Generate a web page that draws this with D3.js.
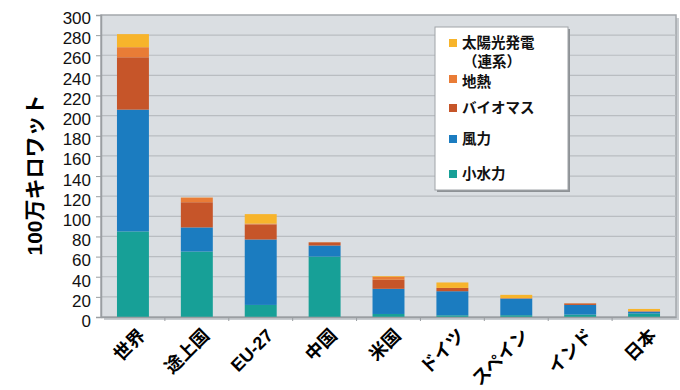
<!DOCTYPE html>
<html><head><meta charset="utf-8">
<script src="https://cdn.jsdelivr.net/npm/d3@7"></script>
<style>
body{margin:0;background:#fff;}
text{font-family:"Liberation Sans","Noto Sans CJK JP",sans-serif;}
</style></head>
<body><svg id="c" width="680" height="390"></svg>
<script>
const categories = ["世界","途上国","EU-27","中国","米国","ドイツ","スペイン","インド","日本"];
const seriesNames = ["小水力","風力","バイオマス","地熱","太陽光発電"];
const smallHydro = [85, 65, 12, 60, 3, 1.7, 1.8, 2.4, 3.5];
const wind       = [121, 24, 65, 11, 25, 23.9, 16.5, 9.6, 1.9];
const biomass    = [52, 25, 15, 3.2, 9, 3.3, 0.4, 1.5, 0.1];
const geothermal = [10, 4.6, 0.8, 0, 3, 0, 0, 0, 0.5];
const solarPV    = [13, 0.1, 9.4, 0.1, 0.7, 5.4, 3.3, 0.1, 2.0];
const yTicks = d3.range(0, 301, 20);
const colors = ["#17a097","#1b7cc0","#c65529","#e97c36","#f7b42b"];
const legendLabels = [["太陽光発電","（連系）"],["地熱"],["バイオマス"],["風力"],["小水力"]];

const svg = d3.select("#c");
const L=101, R=676, T=15, B=317;
const x = d3.scaleBand().domain(categories).range([L,R]).paddingInner(0.5).paddingOuter(0.25);
const xb = d3.scaleBand().domain(categories).range([L,R]);
const y = d3.scaleLinear().domain([0,300]).range([B,T]);

// plot background
svg.append("rect").attr("x",L+3).attr("y",T+3).attr("width",R-L).attr("height",B-T).attr("fill","#c9cdd1");
svg.append("rect").attr("x",L).attr("y",T).attr("width",R-L).attr("height",B-T).attr("fill","#dadee2").attr("stroke","#a4a8ac").attr("stroke-width",1.5);

// gridlines
svg.append("g").selectAll("line").data(yTicks.filter(d=>d>0&&d<300)).join("line")
  .attr("x1",L).attr("x2",R).attr("y1",d=>y(d)).attr("y2",d=>y(d))
  .attr("stroke","#b9bdc1").attr("stroke-width",1.2);

// stacked bars
const table = categories.map((c,i)=>({cat:c,"小水力":smallHydro[i],"風力":wind[i],"バイオマス":biomass[i],"地熱":geothermal[i],"太陽光発電":solarPV[i]}));
const stack = d3.stack().keys(seriesNames)(table);
svg.append("g").selectAll("g").data(stack).join("g").attr("fill",(d,i)=>colors[i])
  .selectAll("rect").data(d=>d).join("rect")
  .attr("x",d=>x(d.data.cat)).attr("width",x.bandwidth())
  .attr("y",d=>y(d[1])).attr("height",d=>Math.max(0,y(d[0])-y(d[1])));

// y axis
const ya = svg.append("g").attr("transform",`translate(${L},0)`)
  .call(d3.axisLeft(y).tickValues(yTicks).tickSize(5).tickPadding(5));
ya.select(".domain").attr("stroke","#9a9ea2").attr("stroke-width",1.5);
ya.selectAll(".tick line").attr("stroke","#9a9ea2");
ya.selectAll("text").attr("font-size",17).attr("fill","#111").attr("dy",(d)=>(0.32*17+1+d/300*-1+3)+"px");

// x axis
const xa = svg.append("g").attr("transform",`translate(0,${B})`)
  .call(d3.axisBottom(xb).tickSize(0).tickFormat(""));
xa.select(".domain").attr("stroke","#9a9ea2").attr("stroke-width",1.5);
svg.append("g").selectAll("line").data(categories.slice(1)).join("line")
  .attr("x1",d=>xb(d)).attr("x2",d=>xb(d)).attr("y1",B).attr("y2",B+4).attr("stroke","#9a9ea2");
svg.append("g").selectAll("text").data(categories).join("text")
  .attr("transform",d=>`translate(${x(d)+x.bandwidth()/2+4},${B+10}) rotate(-45)`)
  .attr("text-anchor","end").attr("dy","0.75em").attr("font-size",18).attr("font-weight","bold").attr("fill","#000")
  .text(d=>d);

// y title
svg.append("text").attr("transform","translate(42,175) rotate(-90)")
  .attr("text-anchor","middle").attr("font-size",21).attr("font-weight","bold").text("100万キロワット");

// legend
const lg = svg.append("g");
lg.append("rect").attr("x",437).attr("y",29).attr("width",133).attr("height",163).attr("fill","#8e9296");
lg.append("rect").attr("x",435).attr("y",27).attr("width",133).attr("height",163).attr("fill","#fff").attr("stroke","#a0a4a8");
const legendY = [43,79,108,139,174];
const legColors = colors.slice().reverse();
legendLabels.forEach((lab,i)=>{
  lg.append("rect").attr("x",449).attr("y",legendY[i]-4).attr("width",8).attr("height",8).attr("fill",legColors[i]);
  lab.forEach((t,j)=>{
    lg.append("text").attr("x", j===0?462:463).attr("y",legendY[i]+ (j===0 && i===1 ? 3 : 0) + j*19).attr("dy","0.35em")
      .attr("font-size",14.5).attr("font-weight","bold").attr("fill","#111").text(t);
  });
});
</script></body></html>
